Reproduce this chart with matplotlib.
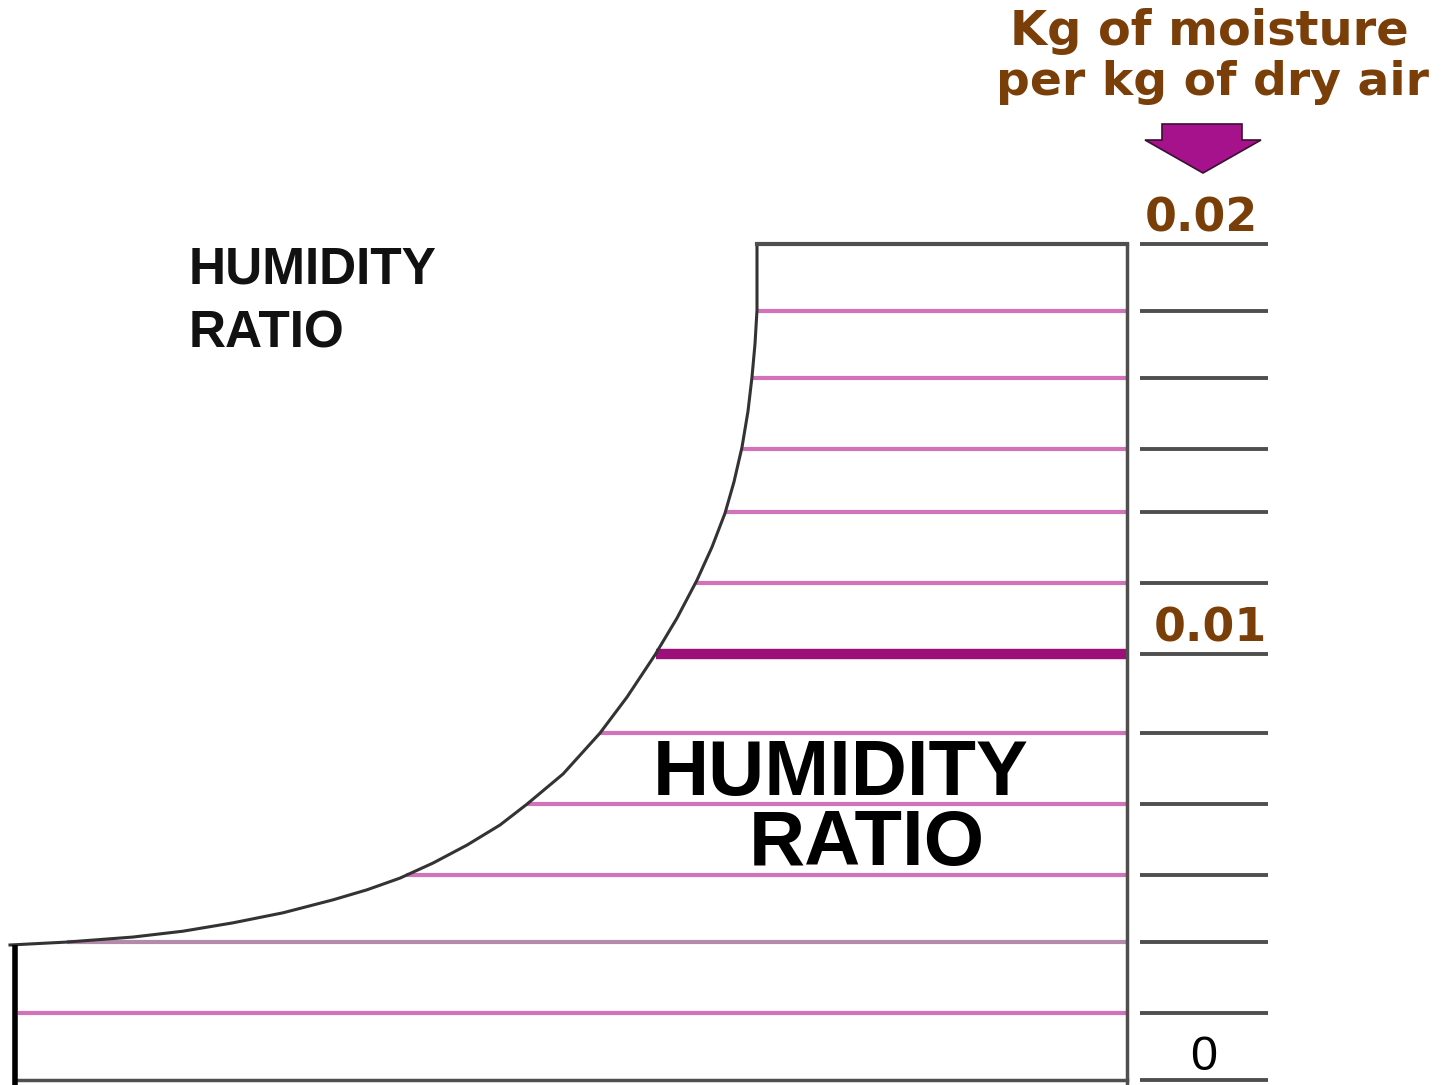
import numpy as np
import matplotlib.pyplot as plt
from matplotlib.patches import Polygon

# humidity ratio (kg moisture / kg dry air) of the constant lines, bottom to top
ratio_lines = [0.0, 0.0016, 0.0033, 0.0049, 0.0066, 0.0083, 0.0102,
               0.0119, 0.0136, 0.0151, 0.0168, 0.0184, 0.02]
highlight = 0.0102
tick_labels = [(0.02, '0.02'), (0.0102, '0.01'), (0.0, '0')]

# saturation curve: chart x position vs humidity ratio
sat_x = [10, 67, 133, 183, 233, 283, 333, 367, 400, 433, 467, 500, 527,
         563, 600, 627, 655, 677, 697, 712, 725, 734, 742, 748, 752,
         755, 757, 757]
sat_w = [0.00323, 0.0033, 0.00342, 0.00356, 0.00376, 0.004, 0.00431,
         0.00455, 0.00483, 0.00519, 0.00562, 0.0061, 0.0066, 0.00732,
         0.0083, 0.00916, 0.01017, 0.01105, 0.01196, 0.01275, 0.01356,
         0.01431, 0.01514, 0.016, 0.01682, 0.01761, 0.01842, 0.02]

W, H = 1447, 1085
PINK = '#d272b8'
MAUVE = '#b48aab'
DARK_MAGENTA = '#9c0f78'
GREY = '#4f4f4f'
BROWN = '#7a3f08'


def px_w(y):
    # pixel row -> humidity ratio (0 at row 1080, 0.02 at row 244)
    return (1080 - y) / 836 * 0.02


def fxy(x, y):
    return x / W, 1 - y / H


fig = plt.figure(figsize=(W / 100, H / 100), dpi=100)
ax = fig.add_axes([0, 0, 1, 1])
ax.set_xlim(0, W)
ax.set_ylim(px_w(H), px_w(0))
ax.axis('off')

wall_left = 15
wall_right = 1127

# constant humidity ratio lines, starting at the saturation curve
for w in ratio_lines[1:-1]:
    x0 = max(np.interp(w, sat_w, sat_x), wall_left + 3)
    if w == highlight:
        ax.plot([x0, wall_right], [w, w], color=DARK_MAGENTA, lw=7.5,
                solid_capstyle='butt', zorder=2)
    else:
        col = MAUVE if w == 0.0033 else PINK
        ax.plot([x0, wall_right], [w, w], color=col, lw=3,
                solid_capstyle='butt', zorder=2)

# saturation curve
ax.plot(sat_x, sat_w, color='#333333', lw=2.2, zorder=3)

# chart outline
top = ratio_lines[-1]
ax.plot([sat_x[-1], wall_right], [top, top], color=GREY, lw=3, zorder=3)
ax.plot([wall_right, wall_right], [px_w(H), top], color=GREY, lw=2.5, zorder=3)
ax.plot([wall_left, wall_right], [0, 0], color=GREY, lw=2.5, zorder=3)
ax.plot([wall_left, wall_left], [px_w(H), sat_w[0]], color='black', lw=4,
        solid_capstyle='butt', zorder=4)

# scale ticks on the right
for w in ratio_lines:
    ax.plot([1140, 1268], [w, w], color=GREY, lw=2.8,
            solid_capstyle='butt', zorder=3)

# scale labels
label_pos = {'0.02': (1201, 232), '0.01': (1210, 642), '0': (1204, 1070)}
for w, lab in tick_labels:
    x, y = label_pos[lab]
    if lab == '0':
        fig.text(*fxy(x, y), lab, ha='center', va='baseline', fontsize=35,
                 family='Liberation Sans', color='black')
    else:
        fig.text(*fxy(x, y), lab, ha='center', va='baseline', fontsize=33,
                 family='DejaVu Sans', weight='bold', color=BROWN)

# axis title
fig.text(*fxy(1209, 45), 'Kg of moisture', ha='center', va='baseline',
         fontsize=34.5, family='DejaVu Sans', weight='heavy', color=BROWN)
fig.text(*fxy(1212, 95), 'per kg of dry air', ha='center', va='baseline',
         fontsize=34, family='DejaVu Sans', weight='heavy', color=BROWN)

# down arrow
arrow_px = [(1162, 124), (1242, 124), (1242, 140), (1261, 140),
            (1203, 173), (1145, 140), (1162, 140)]
arrow = Polygon([fxy(x, y) for x, y in arrow_px], closed=True,
                transform=fig.transFigure, facecolor='#a5128c',
                edgecolor='#3a1030', lw=1.2)
fig.patches.append(arrow)

# labels
fig.text(*fxy(189, 283), 'HUMIDITY', ha='left', va='baseline', fontsize=37,
         family='Liberation Sans', weight='bold', color='#111111')
fig.text(*fxy(189, 348), 'RATIO', ha='left', va='baseline', fontsize=37,
         family='Liberation Sans', weight='bold', color='#111111')
fig.text(*fxy(841, 795), 'HUMIDITY', ha='center', va='baseline', fontsize=56,
         family='Liberation Sans', weight='bold', color='black')
fig.text(*fxy(867, 865), 'RATIO', ha='center', va='baseline', fontsize=56,
         family='Liberation Sans', weight='bold', color='black')

fig.savefig('out.png', dpi=100, facecolor='white')
